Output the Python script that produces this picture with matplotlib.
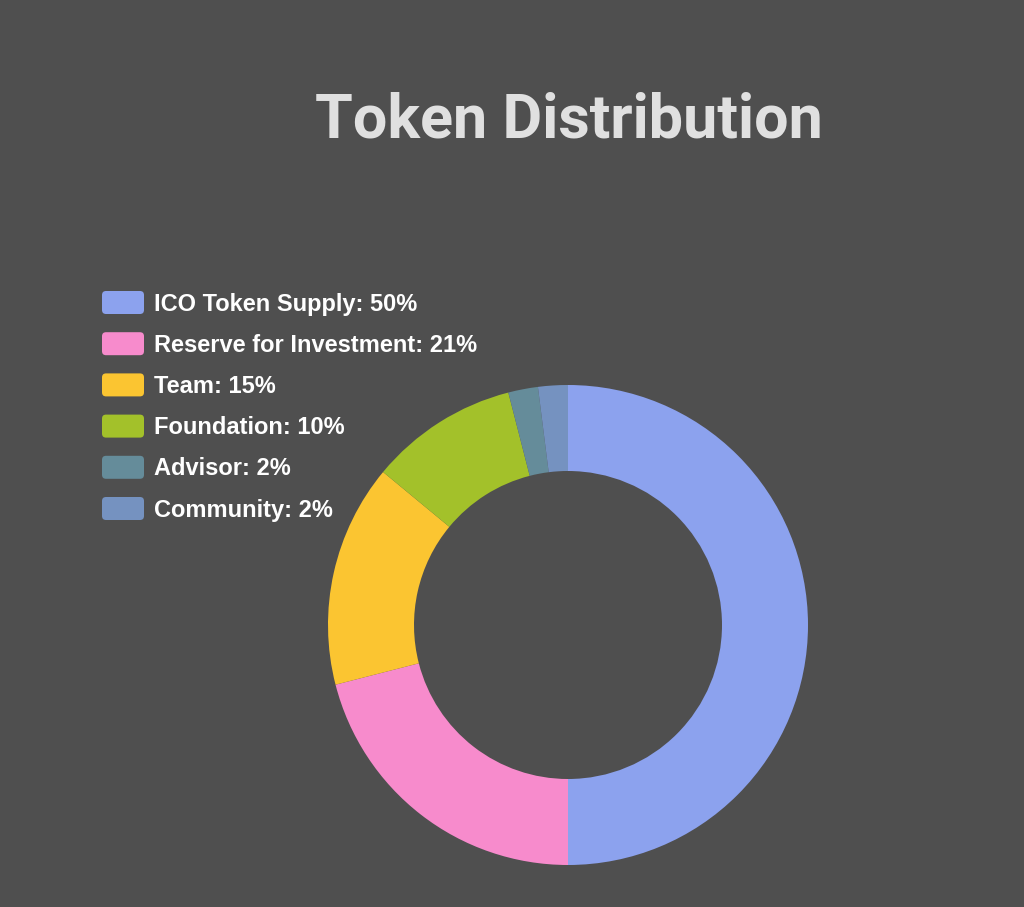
import matplotlib
matplotlib.use("Agg")
import matplotlib.pyplot as plt
from matplotlib.patches import FancyBboxPatch

labels = ["ICO Token Supply", "Reserve for Investment", "Team", "Foundation", "Advisor", "Community"]
shares = [50, 21, 15, 10, 2, 2]
colors = ["#8ca2ee", "#f78bcc", "#fbc531", "#a3c12a", "#658c9a", "#7592c0"]

bg = "#4f4f4f"
W, H = 1024, 907

fig = plt.figure(figsize=(W / 100, H / 100), dpi=100, facecolor=bg)
ax = fig.add_axes([0, 0, 1, 1])
ax.set_facecolor(bg)

# donut, clockwise from 12 o'clock
ax.pie(shares, colors=colors, startangle=90, counterclock=False,
       center=(568, H - 625), radius=240, frame=True,
       wedgeprops=dict(width=86, linewidth=0))
ax.set_xlim(0, W)
ax.set_ylim(0, H)
ax.set_aspect("equal")
ax.axis("off")

ax.text(569, H - 138, "Token Distribution", ha="center", va="baseline",
        fontsize=44, fontweight="bold", family="Roboto", color="#e0e0e0")

# legend
for i, (lab, val, col) in enumerate(zip(labels, shares, colors)):
    y = H - (302.5 + i * 41.2)
    ax.add_patch(FancyBboxPatch((102, y - 11.5), 42, 23,
                                boxstyle="round,pad=0,rounding_size=4",
                                facecolor=col, edgecolor="none"))
    ax.text(154, y - 8, f"{lab}: {val}%", ha="left", va="baseline",
            fontsize=17, fontweight="bold", family="Liberation Sans", color="white")

fig.savefig("out.png", dpi=100, facecolor=bg)
